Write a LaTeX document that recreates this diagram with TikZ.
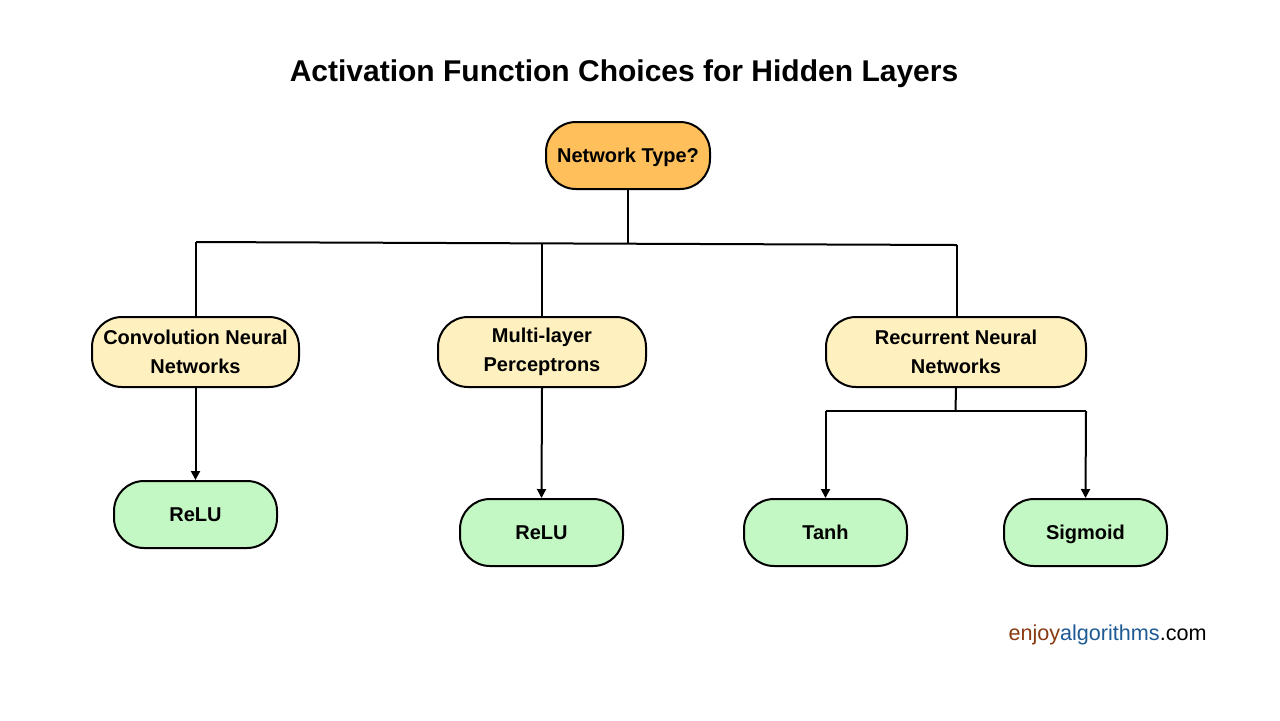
\documentclass[tikz,border=0pt]{standalone}
\usepackage{fontspec}
\setmainfont{Liberation Sans}
\usetikzlibrary{arrows.meta}
\definecolor{orangef}{HTML}{FFC05C}
\definecolor{yellowf}{HTML}{FFF1BF}
\definecolor{greenf}{HTML}{C3F7C3}
\definecolor{brandbrown}{HTML}{8A3A10}
\definecolor{brandblue}{HTML}{1E5A94}
\tikzset{
  pill/.style={draw=black, line width=1pt, rounded corners=15pt, align=center,
    font=\fontsize{10pt}{14.5pt}\selectfont\bfseries, inner sep=0pt},
  topbox/.style={pill, fill=orangef, minimum width=82pt, minimum height=33.5pt},
  midbox/.style={pill, fill=yellowf, minimum height=35pt},
  leafbox/.style={pill, fill=greenf, minimum width=81.5pt, minimum height=33.5pt,
    text height=7.2pt, text depth=0pt},
  conn/.style={line width=1pt, draw=black},
  arr/.style={conn, -{Triangle[width=4.5pt,length=4.5pt]}},
}
\begin{document}
\begin{tikzpicture}[x=0.5pt,y=-0.5pt]
\useasboundingbox (0,0) rectangle (1280,720);
\fill[white] (0,0) rectangle (1280,720);
\node[font=\fontsize{15pt}{18pt}\selectfont\bfseries] (title) at (624,74) {Activation Function Choices for Hidden Layers};
\node[topbox, text height=7.2pt, text depth=0pt] (net) at (628,155.5) {Network Type?};
\node[midbox, minimum width=103.5pt] (cnn) at (195.5,352) {Convolution Neural\\Networks};
\node[midbox, minimum width=104pt] (mlp) at (542,352) {Multi-layer\\Perceptrons};
\node[midbox, minimum width=130pt] (rnn) at (956,352) {Recurrent Neural\\Networks};
\node[leafbox] (relu1) at (195.5,514.5) {ReLU};
\node[leafbox] (relu2) at (541.5,532.5) {ReLU};
\node[leafbox] (tanh) at (825.5,532.5) {Tanh};
\node[leafbox] (sig) at (1085.5,532.5) {Sigmoid};
\coordinate (hb) at (628,243);
\coordinate (hl) at (196,242);
\coordinate (hm) at (542,243.5);
\coordinate (hr) at (957,245);
\draw[conn] (net.south) -- (hb);
\draw[conn] (hl) -- (hr);
\draw[conn] (hl) -- (hl |- cnn.north);
\draw[conn] (hm) -- (mlp.north);
\draw[conn] (hr) -- (hr |- rnn.north);
\draw[arr] (cnn.south) -- (relu1.north);
\draw[arr] (mlp.south) -- (relu2.north);
\coordinate (rb) at (955.5,411);
\coordinate (rl) at (825.5,411);
\coordinate (rr) at (1086,411);
\draw[conn] (rnn.south) -- (rb);
\draw[conn] (rl) -- (rr);
\draw[arr] (rl) -- (tanh.north);
\draw[arr] (rr) -- (sig.north);
\node[anchor=east, inner sep=0pt, font=\fontsize{10.8pt}{13pt}\selectfont] (brand) at (1207,635) {\textcolor{brandbrown}{enjoy}\textcolor{brandblue}{algorithms}.com};
\end{tikzpicture}
\end{document}
